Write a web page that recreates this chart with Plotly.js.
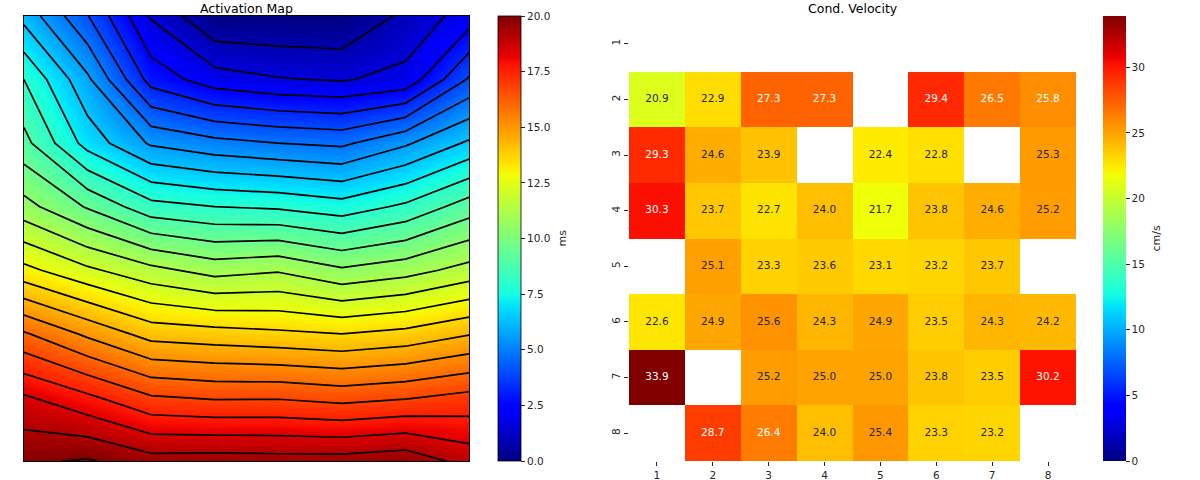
<!DOCTYPE html>
<html>
<head>
<meta charset="utf-8">
<script src="https://cdn.plot.ly/plotly-3.0.1.min.js"></script>
<style>html,body{margin:0;padding:0;background:#fff;}</style>
</head>
<body>
<div id="chart" style="width:1200px;height:480px;"></div>
<script>
// ---------- Activation map (ms), 8x8 electrode grid, row 0 at top ----------
const gridCols = [0, 1, 2, 3, 4, 5, 6, 7];
const gridRows = [0, 1, 2, 3, 4, 5, 6, 7];
const actRow0 = [6.14, 4.04, 1.52, 0.04, 0.03, 0.00, 1.00, 1.97];
const actRow1 = [8.00, 5.76, 2.88, 1.97, 1.66, 1.54, 1.84, 4.10];
const actRow2 = [9.06, 6.88, 5.49, 5.06, 4.80, 4.64, 5.48, 6.53];
const actRow3 = [10.69, 9.52, 8.28, 8.00, 7.88, 7.56, 8.16, 9.19];
const actRow4 = [13.04, 12.16, 11.44, 10.90, 11.12, 10.52, 10.88, 11.50];
const actRow5 = [16.10, 15.04, 14.08, 13.92, 13.76, 13.60, 13.84, 14.35];
const actRow6 = [18.50, 17.76, 16.88, 16.70, 16.72, 16.52, 16.72, 17.04];
const actRow7 = [19.88, 20.08, 19.52, 19.56, 19.52, 19.52, 19.72, 18.91];
const actTicks = [0, 2.5, 5, 7.5, 10, 12.5, 15, 17.5, 20];

// ---------- Conduction velocity (cm/s), rows 1..8 top to bottom ----------
const cvCols = [1, 2, 3, 4, 5, 6, 7, 8];
const cvRows = [1, 2, 3, 4, 5, 6, 7, 8];
const cvRow1 = [null, null, null, null, null, null, null, null];
const cvRow2 = [20.9, 22.9, 27.3, 27.3, null, 29.4, 26.5, 25.8];
const cvRow3 = [29.3, 24.6, 23.9, null, 22.4, 22.8, null, 25.3];
const cvRow4 = [30.3, 23.7, 22.7, 24.0, 21.7, 23.8, 24.6, 25.2];
const cvRow5 = [null, 25.1, 23.3, 23.6, 23.1, 23.2, 23.7, null];
const cvRow6 = [22.6, 24.9, 25.6, 24.3, 24.9, 23.5, 24.3, 24.2];
const cvRow7 = [33.9, null, 25.2, 25.0, 25.0, 23.8, 23.5, 30.2];
const cvRow8 = [null, 28.7, 26.4, 24.0, 25.4, 23.3, 23.2, null];
const cvTicks = [0, 5, 10, 15, 20, 25, 30];

// matplotlib "jet"
const JET = [
  [0.0, 'rgb(0,0,128)'], [0.11, 'rgb(0,0,255)'], [0.125, 'rgb(0,0,255)'],
  [0.34, 'rgb(0,219,255)'], [0.35, 'rgb(0,230,247)'], [0.375, 'rgb(21,255,226)'],
  [0.64, 'rgb(239,255,8)'], [0.65, 'rgb(247,245,0)'], [0.66, 'rgb(255,236,0)'],
  [0.89, 'rgb(255,19,0)'], [0.91, 'rgb(232,0,0)'], [1.0, 'rgb(128,0,0)']
];

const actZ = [actRow0, actRow1, actRow2, actRow3, actRow4, actRow5, actRow6, actRow7];
const cvZ = [cvRow1, cvRow2, cvRow3, cvRow4, cvRow5, cvRow6, cvRow7, cvRow8];

let cvMax = 0;
cvZ.forEach(r => r.forEach(v => { if (v !== null && v > cvMax) cvMax = v; }));

function jetRGB(t) {
  t = Math.max(0, Math.min(1, t));
  for (let i = 1; i < JET.length; i++) {
    if (t <= JET[i][0]) {
      const a = JET[i - 1], b = JET[i];
      const f = (t - a[0]) / (b[0] - a[0] || 1);
      const ca = a[1].match(/\d+/g).map(Number), cb = b[1].match(/\d+/g).map(Number);
      return ca.map((c, k) => c + f * (cb[k] - c));
    }
  }
  return [128, 0, 0];
}
function luminance(rgb) {
  const lin = rgb.map(c => { c /= 255; return c <= 0.03928 ? c / 12.92 : Math.pow((c + 0.055) / 1.055, 2.4); });
  return 0.2126 * lin[0] + 0.7152 * lin[1] + 0.0722 * lin[2];
}

const txtX = [], txtY = [], txtS = [], txtC = [];
cvZ.forEach((row, i) => row.forEach((v, j) => {
  if (v === null) return;
  txtX.push(cvCols[j]); txtY.push(cvRows[i]); txtS.push(v.toFixed(1));
  txtC.push(luminance(jetRGB(v / cvMax)) > 0.408 ? '#262626' : '#ffffff');
}));

const FONT = 'DejaVu Sans, Liberation Sans, sans-serif';

const traces = [
  {
    type: 'heatmap', x: gridCols, y: gridRows, z: actZ, xaxis: 'x', yaxis: 'y',
    zsmooth: 'best', colorscale: JET, zmin: 0, zmax: 20, hoverinfo: 'skip',
    colorbar: {
      x: 498 / 1200, xanchor: 'left', xpad: 0, y: (480 - 238.5) / 480, yanchor: 'middle', ypad: 0,
      thickness: 23, thicknessmode: 'pixels', len: 445, lenmode: 'pixels',
      tickvals: actTicks, ticktext: actTicks.map(v => v.toFixed(1)),
      ticks: 'outside', ticklen: 4, tickwidth: 1, tickcolor: '#262626',
      outlinewidth: 0.8, outlinecolor: '#000',
      tickfont: { family: FONT, size: 10.5, color: '#262626' }
    }
  },
  {
    type: 'contour', x: gridCols, y: gridRows, z: actZ, xaxis: 'x', yaxis: 'y',
    autocontour: false, contours: { coloring: 'none', start: 0.8, end: 20.0001, size: 0.8 },
    line: { color: '#000', width: 1.7, smoothing: 0 }, showscale: false, hoverinfo: 'skip'
  },
  {
    type: 'heatmap', x: cvCols, y: cvRows, z: cvZ, xaxis: 'x2', yaxis: 'y2',
    colorscale: JET, zmin: 0, zmax: cvMax, hoverinfo: 'skip',
    colorbar: {
      x: 1103 / 1200, xanchor: 'left', xpad: 0, y: (480 - 238.5) / 480, yanchor: 'middle', ypad: 0,
      thickness: 23, thicknessmode: 'pixels', len: 445, lenmode: 'pixels',
      tickvals: cvTicks, ticks: 'outside', ticklen: 4, tickwidth: 1, tickcolor: '#262626',
      outlinewidth: 0,
      tickfont: { family: FONT, size: 10.5, color: '#262626' }
    }
  },
  {
    type: 'scatter', mode: 'text', x: txtX, y: txtY, text: txtS, xaxis: 'x2', yaxis: 'y2',
    textfont: { family: FONT, size: 10.5, color: txtC }, hoverinfo: 'skip', showlegend: false
  }
];

const yDom = [(480 - 461) / 480, (480 - 16) / 480];
const layout = {
  width: 1200, height: 480, margin: { l: 0, r: 0, t: 0, b: 0 },
  paper_bgcolor: '#fff', plot_bgcolor: '#fff', showlegend: false,
  font: { family: FONT, size: 10.5, color: '#262626' },
  xaxis: { domain: [24 / 1200, 469 / 1200], range: [0, 7], showticklabels: false, ticks: '',
    showgrid: false, zeroline: false, showline: true, mirror: true, linecolor: '#000', linewidth: 1 },
  yaxis: { domain: yDom, range: [7, 0], showticklabels: false, ticks: '',
    showgrid: false, zeroline: false, showline: true, mirror: true, linecolor: '#000', linewidth: 1 },
  xaxis2: { domain: [629 / 1200, 1076 / 1200], anchor: 'y2', range: [0.5, 8.5],
    tickvals: cvCols, ticktext: cvCols.map(String), ticks: 'outside', ticklen: 4, tickcolor: '#262626',
    showgrid: false, zeroline: false, showline: false, tickfont: { family: FONT, size: 10.5 } },
  yaxis2: { domain: yDom, anchor: 'x2', range: [8.5, 0.5],
    tickvals: cvRows, ticktext: cvRows.map(String), tickangle: -90, ticks: 'outside', ticklen: 4, tickcolor: '#262626',
    showgrid: false, zeroline: false, showline: false, tickfont: { family: FONT, size: 10.5 } },
  annotations: [
    { text: 'Activation Map', xref: 'paper', yref: 'paper', x: 246.5 / 1200, y: 1,
      xanchor: 'center', yanchor: 'top', borderpad: 0, showarrow: false, font: { family: FONT, size: 12.5, color: '#000' } },
    { text: 'Cond. Velocity', xref: 'paper', yref: 'paper', x: 852.5 / 1200, y: 1,
      xanchor: 'center', yanchor: 'top', borderpad: 0, showarrow: false, font: { family: FONT, size: 12.5, color: '#000' } },
    { text: 'ms', xref: 'paper', yref: 'paper', x: 562 / 1200, y: (480 - 238.5) / 480, textangle: -90,
      xanchor: 'center', yanchor: 'middle', showarrow: false, font: { family: FONT, size: 11, color: '#262626' } },
    { text: 'cm/s', xref: 'paper', yref: 'paper', x: 1156 / 1200, y: (480 - 238.5) / 480, textangle: -90,
      xanchor: 'center', yanchor: 'middle', showarrow: false, font: { family: FONT, size: 11, color: '#262626' } }
  ]
};

Plotly.newPlot('chart', traces, layout, { displayModeBar: false, staticPlot: true });
</script>
</body>
</html>
